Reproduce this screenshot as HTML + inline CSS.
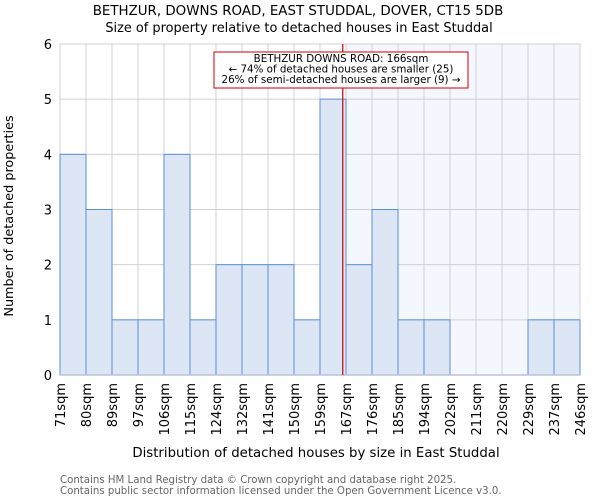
<!DOCTYPE html>
<html><head><meta charset="utf-8"><style>
body{margin:0;background:#fff;font-family:"DejaVu Sans","Liberation Sans",sans-serif}
svg text{font-family:"DejaVu Sans","Liberation Sans",sans-serif}
</style></head><body>
<svg id="chart" width="600" height="500" xmlns="http://www.w3.org/2000/svg">
<text x="298" y="15" text-anchor="middle" font-size="13.4">BETHZUR, DOWNS ROAD, EAST STUDDAL, DOVER, CT15 5DB</text>
<text x="299" y="32" text-anchor="middle" font-size="12.9">Size of property relative to detached houses in East Studdal</text>
<g id="plot"></g>
<text x="316" y="457" text-anchor="middle" font-size="13.3">Distribution of detached houses by size in East Studdal</text>
<text transform="translate(13,216) rotate(-90)" text-anchor="middle" font-size="12.8">Number of detached properties</text>
<text x="60" y="483" font-size="10.2" fill="#666">Contains HM Land Registry data © Crown copyright and database right 2025.</text>
<text x="60" y="494" font-size="10.2" fill="#666">Contains public sector information licensed under the Open Government Licence v3.0.</text>
</svg>
<script>
const binLabels=["71sqm","80sqm","89sqm","97sqm","106sqm","115sqm","124sqm","132sqm","141sqm","150sqm","159sqm","167sqm","176sqm","185sqm","194sqm","202sqm","211sqm","220sqm","229sqm","237sqm","246sqm"];
const binEdges=[71,80,89,97,106,115,124,132,141,150,159,167,176,185,194,202,211,220,229,237,246];
const counts=[4,3,1,1,4,1,2,2,2,1,5,2,3,1,1,0,0,0,1,1];
const yTicks=[0,1,2,3,4,5,6];
const subjectSize=166;
const NS="http://www.w3.org/2000/svg";
const L=60,R=580,T=44,B=375,yMax=6;
const n=counts.length,bw=(R-L)/n;
const xIdx=i=>L+i*bw;
const xVal=v=>{for(let i=0;i<binEdges.length-1;i++){if(v<=binEdges[i+1])return xIdx(i)+bw*(v-binEdges[i])/(binEdges[i+1]-binEdges[i]);}return R;};
const y=v=>B-(B-T)*v/yMax;
const g=document.getElementById('plot');
function mk(t,a){const e=document.createElementNS(NS,t);for(const k in a)e.setAttribute(k,a[k]);g.appendChild(e);return e;}
const sx=xVal(subjectSize);
let e=mk('rect',{x:sx,y:T,width:R-sx,height:B-T,fill:'#f4f7fe'});


for(let i=0;i<=n;i++){e=mk('line',{x1:xIdx(i),x2:xIdx(i),y1:T,y2:B,stroke:'#d0d0d0','stroke-width':1});

}
yTicks.forEach(t=>{e=mk('line',{x1:L,x2:R,y1:y(t),y2:y(t),stroke:'#d0d0d0','stroke-width':1});


e=mk('text',{x:L-8,y:y(t)+5,'text-anchor':'end','font-size':13});e.textContent=t;

});
counts.forEach((c,i)=>{if(c<=0)return;e=mk('rect',{x:xIdx(i),y:y(c),width:bw,height:B-y(c),fill:'#dce6f4',stroke:'#5b8fd6','stroke-width':1});

});
e=mk('line',{x1:L,x2:R,y1:B,y2:B,stroke:'#b8c4d8','stroke-width':1.5});


binLabels.forEach((lb,i)=>{const x=xIdx(i);e=mk('text',{transform:`translate(${x+5},${B+8}) rotate(-90)`,'text-anchor':'end','font-size':13});e.textContent=lb;

});
e=mk('line',{x1:sx,x2:sx,y1:T,y2:B,stroke:'#cc0000','stroke-width':1.2});


e=mk('rect',{x:214,y:52,width:254,height:36,fill:'#fff',stroke:'#cc0000','stroke-width':1});


["BETHZUR DOWNS ROAD: 166sqm","← 74% of detached houses are smaller (25)","26% of semi-detached houses are larger (9) →"].forEach((s,k)=>{e=mk('text',{x:341,y:62+k*10.5,'text-anchor':'middle','font-size':10.3});e.textContent=s;

});
</script>
</body></html>
